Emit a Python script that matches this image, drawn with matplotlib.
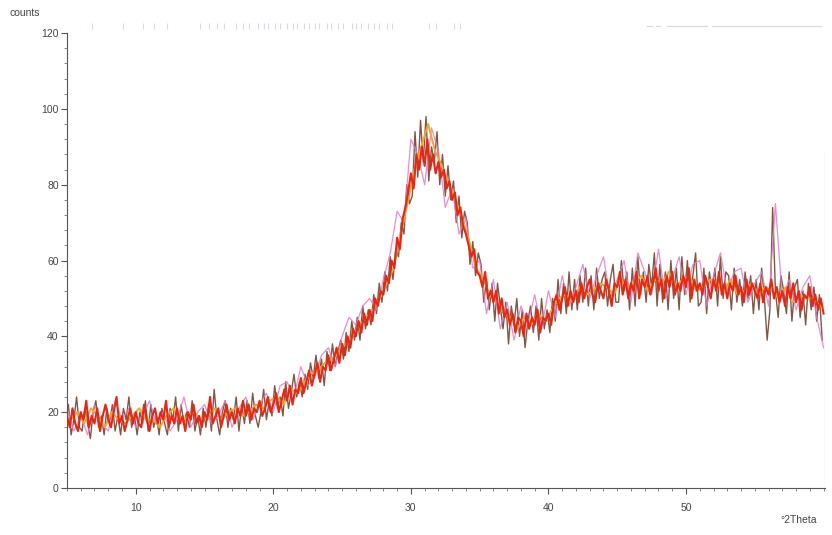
import numpy as np
import matplotlib.pyplot as plt
from matplotlib.ticker import MultipleLocator

plt.rcParams['font.family'] = ['Liberation Sans', 'DejaVu Sans']

# scan grids (degrees 2theta)
two_theta_red = np.arange(5.0, 60.01, 0.2)
two_theta_dark = np.arange(5.1, 60.0, 0.2)
two_theta_pink = np.arange(5.0, 60.01, 0.5)
two_theta_orange = np.arange(5.25, 60.0, 0.5)

# counts (one row per degree)
counts_red = [
    19, 16, 21, 17, 15,  20, 18, 23, 16, 19,  17, 21, 15, 19, 22,  18, 16, 20, 24, 17,
    19, 15, 18, 21, 17,  20, 17, 16, 22, 18,  15, 19, 21, 17, 20,  18, 23, 16, 19, 17,
    21, 17, 19, 15, 20,  18, 22, 17, 19, 16,  20, 18, 24, 17, 19,  21, 16, 19, 22, 18,
    20, 17, 21, 19, 23,  19, 22, 18, 21, 20,  23, 19, 21, 24, 20,  22, 25, 20, 23, 26,
    23, 27, 22, 26, 25,  29, 25, 28, 31, 27,  30, 33, 28, 32, 31,  35, 31, 34, 37, 33,
    38, 35, 40, 37, 42,  40, 44, 41, 46, 43,  47, 44, 50, 48, 52,  51, 56, 54, 60, 58,
    66, 63, 71, 74, 78,  83, 79, 88, 84, 90,  85, 92, 84, 88, 83,  86, 82, 84, 79, 81,
    76, 78, 72, 74, 69,  67, 64, 61, 63, 57,  56, 53, 57, 50, 52,  49, 52, 46, 50, 45,
    47, 43, 46, 41, 45,  44, 40, 46, 42, 45,  43, 47, 41, 45, 44,  46, 43, 49, 51, 47,
    50, 53, 48, 52, 49,  52, 49, 54, 50, 53,  55, 51, 49, 54, 52,  50, 55, 52, 48, 54,
    53, 57, 51, 55, 50,  54, 52, 57, 50, 55,  53, 56, 51, 54, 58,  52, 55, 50, 56, 53,
    57, 51, 54, 52, 56,  53, 58, 50, 55, 52,  54, 51, 56, 53, 50,  55, 52, 57, 51, 54,
    50, 54, 52, 56, 51,  53, 49, 55, 51, 54,  52, 50, 54, 49, 53,  51, 55, 50, 53, 49,
    52, 48, 53, 50, 54,  49, 52, 47, 51, 50,  53, 48, 51, 47, 50,  46,
]

counts_dark = [
    22, 14, 18, 24, 16,  15, 21, 17, 13, 20,  23, 16, 19, 14, 21,  17, 22, 15, 19, 14,
    21, 18, 24, 16, 19,  14, 20, 17, 23, 15,  22, 16, 19, 14, 21,  17, 14, 21, 18, 24,
    15, 22, 17, 20, 16,  23, 15, 19, 14, 21,  16, 22, 15, 26, 18,  14, 20, 23, 16, 21,
    18, 24, 15, 22, 17,  23, 17, 25, 19, 16,  20, 26, 18, 23, 19,  27, 21, 24, 19, 28,
    21, 25, 30, 24, 28,  24, 30, 26, 33, 29,  35, 29, 34, 27, 36,  31, 38, 32, 36, 39,
    34, 41, 36, 44, 39,  45, 39, 48, 42, 47,  43, 51, 46, 54, 49,  57, 52, 61, 55, 63,
    61, 70, 67, 80, 75,  77, 94, 82, 97, 86,  98, 81, 90, 86, 94,  80, 88, 77, 85, 76,
    81, 70, 77, 66, 73,  70, 59, 65, 56, 62,  59, 49, 55, 47, 54,  44, 54, 48, 42, 49,
    38, 48, 43, 50, 40,  47, 37, 44, 48, 41,  48, 39, 50, 42, 47,  41, 50, 44, 55, 46,
    54, 46, 57, 47, 55,  47, 56, 49, 58, 48,  56, 47, 58, 50, 55,  57, 48, 55, 59, 49,
    49, 60, 52, 57, 47,  58, 48, 61, 51, 57,  49, 59, 53, 62, 48,  59, 49, 57, 47, 60,
    50, 58, 47, 61, 51,  60, 49, 56, 62, 48,  49, 58, 46, 57, 52,  58, 48, 61, 50, 57,
    56, 47, 58, 49, 55,  48, 57, 50, 56, 46,  55, 47, 58, 50, 39,  47, 74, 52, 45, 56,
    52, 46, 57, 44, 53,  55, 45, 52, 43, 54,  47, 53, 44, 51, 39,
]

counts_pink = [
    21, 15, 19, 14, 22, 17, 15, 23, 18, 21, 16, 19, 23, 17, 20, 15, 18, 24, 16, 20,
    22, 17, 19, 23, 16, 21, 24, 18, 22, 25, 20, 27, 28, 24, 32, 27, 29, 35, 37, 32,
    40, 45, 43, 48, 50, 47, 55, 62, 73, 70, 92, 88, 80, 95, 89, 74, 79, 67, 71, 58,
    60, 46, 55, 42, 49, 39, 48, 43, 51, 42, 52, 45, 56, 48, 53, 59, 50, 56, 61, 50,
    55, 60, 49, 62, 57, 51, 63, 50, 55, 61, 51, 59, 60, 48, 56, 62, 52, 57, 58, 49,
    54, 57, 48, 75, 50, 55, 47, 53, 56, 45, 37,
]

counts_orange = [
    18, 20, 17, 21, 19, 16, 20, 18, 17, 19, 21, 18, 18, 16, 19, 21, 17, 19, 20, 18,
    19, 21, 18, 20, 21, 19, 20, 22, 21, 23, 24, 22, 26, 25, 28, 30, 31, 33, 34, 36,
    38, 40, 43, 45, 47, 50, 54, 58, 67, 75, 84, 90, 96, 89, 85, 80, 76, 71, 65, 58,
    55, 51, 49, 46, 45, 42, 45, 43, 46, 44, 47, 50, 51, 49, 53, 51, 52, 54, 53, 51,
    55, 53, 54, 56, 52, 55, 54, 57, 53, 55, 56, 52, 53, 55, 54, 52, 55, 51, 52, 54,
    51, 53, 52, 50, 53, 49, 51, 50, 50, 48,
]

# reference pattern sticks along the top
ref_sticks = [6.8, 9.1, 10.5, 11.3, 12.3, 14.7, 15.3, 15.9, 16.4, 17.3, 17.8, 18.2,
              18.9, 19.3, 19.6, 20.1, 20.5, 21.0, 21.4, 21.7, 22.2, 22.6, 23.0, 23.3,
              23.9, 24.2, 24.7, 25.1, 25.7, 26.0, 26.4, 26.9, 27.3, 27.7, 28.3, 28.6,
              31.3, 31.8, 33.1, 33.6]
ref_bands = [(47.2, 47.5), (47.8, 48.1), (48.6, 51.5), (51.9, 59.8)]

fig = plt.figure(figsize=(8.32, 5.35), dpi=100)
ax = fig.add_axes([0.0805, 0.088, 0.911, 0.850])

ax.plot(two_theta_dark, counts_dark, color='#6b3a22', lw=1.0, alpha=0.85)
ax.plot(two_theta_pink, counts_pink, color='#e57ac8', lw=0.9, alpha=0.85)
ax.plot(two_theta_orange, counts_orange, color='#f4a428', lw=1.4)
ax.plot(two_theta_red, counts_red, color='#ec2412', lw=1.5)

# faint reference markers above the plot
ax.vlines(ref_sticks, 121.0, 122.6, colors='#a8acd4', lw=0.8, alpha=0.45, clip_on=False)
for a, b in ref_bands:
    ax.plot([a, b], [121.8, 121.8], color='#a8acd4', lw=0.9, alpha=0.45, clip_on=False)

# thin gray line at the right end
ax.plot([60.1, 60.1], [0, 89], color='#9a9a9a', lw=0.8)

ax.set_xlim(5, 60.1)
ax.set_ylim(0, 120)
ax.xaxis.set_major_locator(MultipleLocator(10))
ax.xaxis.set_minor_locator(MultipleLocator(1))
ax.yaxis.set_major_locator(MultipleLocator(20))
ax.yaxis.set_minor_locator(MultipleLocator(4))
ax.set_xticks([10, 20, 30, 40, 50])

for s in ['top', 'right']:
    ax.spines[s].set_visible(False)
for s in ['left', 'bottom']:
    ax.spines[s].set_color('#555555')
    ax.spines[s].set_linewidth(0.8)

ax.tick_params(which='major', direction='out', length=4, width=0.8, color='#555555',
               labelsize=7.5, labelcolor='#444444', pad=2)
ax.tick_params(which='minor', direction='out', length=2, width=0.6, color='#777777')
ax.tick_params(axis='x', which='major', pad=7)

fig.text(0.012, 0.975, 'counts', fontsize=7.5, color='#444444', ha='left', va='center')
fig.text(0.938, 0.028, '°2Theta', fontsize=7.5, color='#444444', ha='left', va='center')

fig.savefig('out.png', dpi=100)
